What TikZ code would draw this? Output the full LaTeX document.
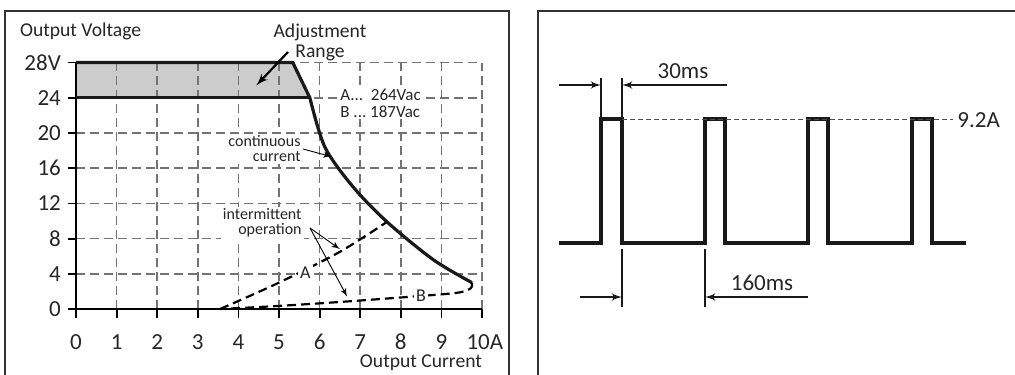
\documentclass[tikz,border=0pt]{standalone}
\usepackage{fontspec}
\setmainfont{Carlito}
\usetikzlibrary{arrows,positioning}

\begin{document}
\begin{tikzpicture}[x=0.5pt, y=-0.5pt, >=latex',
    frame/.style={line width=1.1pt, black!80},
    gridline/.style={black!55, line width=0.75pt, dash pattern=on 4.5pt off 2.5pt},
    bold/.style={line width=1.6pt, black!90},
    dim/.style={line width=0.8pt, black!90},
    small/.style={font=\fontsize{8}{7.5}\selectfont, text=black!85, inner sep=1pt},
    mid/.style={font=\fontsize{9.8}{10}\selectfont, text=black!85},
    big/.style={font=\fontsize{11.5}{12}\selectfont, text=black!85}]
    \useasboundingbox (0,0) rectangle (1015,374);

    % Frames
    \draw[frame] (5,380) -- (5,11) -- (509,11) -- (509,380);
    \draw[frame] (538,380) -- (538,11) -- (1020,11);

    % Left plot: output voltage vs output current
    \begin{scope}[shift={(76,309)}, x=20.3pt, y=4.4pt]
        \fill[gray!40] (0,24) -- (0,28) -- (5.34,28) -- (5.76,24) -- cycle;
        \foreach \i in {1,...,10} \draw[gridline] (\i,0) -- (\i,28);
        \foreach \v in {4,8,...,28} \draw[gridline] (0,\v) -- (10,\v);
        % Axes and ticks
        \draw[line width=0.9pt] (0,28) -- (0,0) -- (10,0);
        \foreach \v in {0,4,...,24} {
            \draw[line width=0.9pt] (-0.2,\v) -- (0,\v);
            \node[big, anchor=east] at (-0.2,\v) {\v};
        }
        \draw[line width=0.9pt] (-0.2,28) -- (0,28);
        \node[big, anchor=east] at (-0.2,28) {28V};
        \foreach \i in {0,...,9} {
            \draw[line width=0.9pt] (\i,0) -- (\i,-1);
            \node[big] at (\i,-3.75) {\i};
        }
        \draw[line width=0.9pt] (10,0) -- (10,-1);
        \node[big] at (10.07,-3.75) {10A};
        % Curves
        \draw[bold] (0,24) -- (5.76,24);
        \draw[bold] (0,28) -- (5.34,28) -- (5.76,24)
            plot[smooth] coordinates {(5.76,24) (6.13,18.4) (6.82,13.9) (7.66,9.9) (8.8,5.6) (9.75,3.0)};
        \draw[line width=1.1pt, dash pattern=on 4.5pt off 2.5pt]
            plot[smooth] coordinates {(3.55,0) (5.0,3.0) (6.5,6.5) (7.66,9.9)};
        \draw[line width=1.1pt, dash pattern=on 4.5pt off 2.5pt]
            plot[smooth] coordinates {(9.75,3.0) (9.72,2.35) (9.4,1.85) (8.4,1.45) (6.5,0.8) (5,0.35) (3.55,0)};
        \coordinate (ontop) at (4.44,25.4);
        \coordinate (oncont) at (6.3,17.3);
        \coordinate (onA) at (6.5,6.8);
        \coordinate (onB) at (6.68,1.4);
        \node[small, fill=white, font=\fontsize{9}{9}\selectfont] (alabel) at (5.65,4.1) {A};
        \node[small, fill=white, font=\fontsize{9}{9}\selectfont] (blabel) at (8.5,1.5) {B};
    \end{scope}

    % Labels of the left plot
    \node[mid, anchor=west] (yname) at (13,31) {Output Voltage};
    \node[mid] (xname) at (421,363) {Output Current};
    \node[mid, align=center] (adj) at (320,42) {Adjustment\\Range};
    \node[small, fill=white, align=left, anchor=west, font=\fontsize{8.5}{8.5}\selectfont] (vac) at (338,103) {A...\ \ 264Vac\\B ...\ 187Vac};
    \node[small, fill=white, align=right, anchor=east] (cont) at (303,149) {continuous\\current};
    \node[small, fill=white, align=right, anchor=east] (inter) at (304,223) {intermittent\\operation};

    % Pointers
    \draw[->, line width=1.1pt] (288,52) -- (ontop);
    \draw[->, line width=0.45pt] (cont.east) -- (oncont);
    \draw[->, line width=0.45pt] (inter.east) ++(6,5) coordinate (fork) -- (onA);
    \draw[->, line width=0.45pt] (fork) -- (onB);

    % Right plot: pulse train
    \draw[bold, line join=miter] (559,243) -- (601,243) -- (601,119) -- (622,119) -- (622,243)
        -- (705,243) -- (705,119) -- (725,119) -- (725,243)
        -- (808,243) -- (808,119) -- (828,119) -- (828,243)
        -- (912,243) -- (912,119) -- (932,119) -- (932,243) -- (966,243);
    \coordinate (peak) at (622,119);
    \draw[black!70, line width=0.5pt, dash pattern=on 2.5pt off 1.5pt] (peak) -- (953,119);
    \node[big, anchor=west, inner sep=1pt] (ipk) at (955,120) {9.2A};

    % 30ms dimension
    \coordinate (w1) at (601,85);
    \coordinate (w2) at (622,85);
    \draw[dim] (601,78) -- (601,117);
    \draw[dim] (622,78) -- (622,117);
    \draw[dim, ->] (559,85) -- (w1);
    \draw[dim, ->] (727,85) -- (w2);
    \node[big] (ton) at (683,71) {30ms};

    % 160ms dimension
    \coordinate (t1) at (622,297);
    \coordinate (t2) at (705,297);
    \draw[dim] (622,249) -- (622,307);
    \draw[dim] (705,249) -- (705,307);
    \draw[dim, ->] (580,297) -- (t1);
    \draw[dim, ->] (808,297) -- (t2);
    \node[big] (toff) at (762,283) {160ms};
\end{tikzpicture}
\end{document}
